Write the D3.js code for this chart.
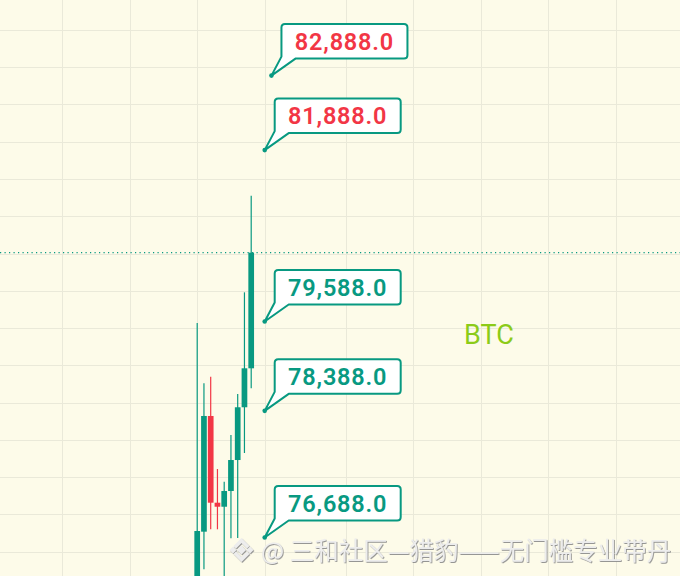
<!DOCTYPE html>
<html>
<head>
<meta charset="utf-8">
<script src="https://cdn.jsdelivr.net/npm/d3@7"></script>
<style>
  html, body { margin: 0; padding: 0; background: #fdfbe9; }
  svg { display: block; }
</style>
</head>
<body>
<svg id="chart"></svg>
<script>
// candles (bar index 0 = leftmost visible candle)
const barIndex = [0, 1, 2, 3, 4, 5, 6, 7, 8];
const opens  = [75850, 76766, 78319, 77155, 77101, 77312, 77728, 78436, 78959];
const highs  = [79567, 78758, 78846, 77607, 77437, 78064, 78614, 79979, 81276];
const lows   = [75700, 76261, 76798, 76798, 75980, 76677, 76681, 77822, 78691];
const closes = [76775, 78319, 77155, 77101, 77312, 77728, 78436, 78959, 80511];

// price callouts
const levelPrices = [82888, 81888, 79588, 78388, 76688];
const levelBars = [11, 10, 10, 10, 10];

// time grid (bar index of each vertical line)
const gridBars = [-20, -10, 0, 10, 22, 32, 42, 52, 62];

const symbol = 'BTC';
const watermark = '@ 三和社区—猎豹——无门槛专业带丹';

const width = 680;
const height = 576;
const up = '#089981';
const down = '#f23645';

const svg = d3.select('#chart').attr('width', width).attr('height', height);

svg.append('rect').attr('width', width).attr('height', height).attr('fill', '#fdfbe9');

const x = d3.scaleLinear().domain([0, 8]).range([197.2, 251.2]);
const y = d3.scaleLinear().domain([76000, 83500]).range([588.75, 30]);

// grid
const grid = svg.append('g').attr('stroke', '#eae9d9').attr('stroke-width', 1);
grid.selectAll('line.h')
  .data(d3.range(76000, 84001, 500))
  .join('line')
  .attr('class', 'h')
  .attr('x1', 0).attr('x2', width)
  .attr('y1', (d) => Math.round(y(d)) + 0.5)
  .attr('y2', (d) => Math.round(y(d)) + 0.5);
grid.selectAll('line.v')
  .data(gridBars)
  .join('line')
  .attr('class', 'v')
  .attr('y1', 0).attr('y2', height)
  .attr('x1', (d) => Math.round(x(d)) + 0.5)
  .attr('x2', (d) => Math.round(x(d)) + 0.5);

// last price line
const last = closes[closes.length - 1];
svg.append('line')
  .attr('x1', 0).attr('x2', width)
  .attr('y1', y(last)).attr('y2', y(last))
  .attr('stroke', up)
  .attr('stroke-width', 1.2)
  .attr('stroke-dasharray', '1.2,3.3');

// candles
const bodyW = 5.7;
const candles = svg.append('g')
  .selectAll('g')
  .data(barIndex)
  .join('g')
  .attr('fill', (i) => (closes[i] >= opens[i] ? up : down))
  .attr('stroke', (i) => (closes[i] >= opens[i] ? up : down));

candles.append('line')
  .attr('x1', (i) => x(i)).attr('x2', (i) => x(i))
  .attr('y1', (i) => y(highs[i])).attr('y2', (i) => y(lows[i]))
  .attr('stroke-width', 1.2);

candles.append('rect')
  .attr('stroke', 'none')
  .attr('x', (i) => x(i) - bodyW / 2)
  .attr('width', bodyW)
  .attr('y', (i) => y(Math.max(opens[i], closes[i])))
  .attr('height', (i) => Math.max(1.5, Math.abs(y(opens[i]) - y(closes[i]))));

// callouts
const boxW = 126;
const boxH = 34.5;
const r = 3.5;
const calloutPath = (px, py) => {
  const left = px + 10;
  const bottom = py - 17;
  const top = bottom - boxH;
  const right = left + boxW;
  return [
    `M${left + r},${top}`,
    `L${right - r},${top}`,
    `Q${right},${top} ${right},${top + r}`,
    `L${right},${bottom - r}`,
    `Q${right},${bottom} ${right - r},${bottom}`,
    `L${left + 14},${bottom}`,
    `L${px},${py}`,
    `L${left},${bottom - 2}`,
    `L${left},${top + r}`,
    `Q${left},${top} ${left + r},${top}`,
    'Z',
  ].join(' ');
};

const fmt = d3.format(',.1f');
const callouts = svg.append('g')
  .selectAll('g')
  .data(levelPrices.map((p, k) => ({ p, b: levelBars[k] })))
  .join('g');

callouts.append('path')
  .attr('d', (d) => calloutPath(x(d.b), y(d.p)))
  .attr('fill', '#ffffff')
  .attr('stroke', up)
  .attr('stroke-width', 2)
  .attr('stroke-linejoin', 'round');

callouts.append('circle')
  .attr('cx', (d) => x(d.b))
  .attr('cy', (d) => y(d.p))
  .attr('r', 2.3)
  .attr('fill', up);

callouts.append('text')
  .attr('x', (d) => x(d.b) + 10 + boxW / 2)
  .attr('y', (d) => y(d.p) - 17 - boxH / 2)
  .attr('dy', '0.36em')
  .attr('text-anchor', 'middle')
  .attr('font-family', 'Roboto, sans-serif')
  .attr('font-size', 23.5)
  .attr('font-weight', 600)
  .attr('letter-spacing', 0.8)
  .attr('fill', (d) => (d.p > last ? down : up))
  .text((d) => fmt(d.p));

// symbol label
svg.append('text')
  .attr('x', 464)
  .attr('y', 344)
  .attr('font-family', 'Roboto, sans-serif')
  .attr('font-size', 27)
  .attr('fill', '#8ccb18')
  .text(symbol);

// watermark
const defs = svg.append('defs');
const f = defs.append('filter').attr('id', 'wm').attr('x', '-10%').attr('y', '-30%').attr('width', '120%').attr('height', '160%');
f.append('feDropShadow')
  .attr('dx', 0.8).attr('dy', 0.9)
  .attr('stdDeviation', 0.7)
  .attr('flood-color', '#8a8a8a')
  .attr('flood-opacity', 1);

const wm = svg.append('g').attr('filter', 'url(#wm)').attr('fill', '#ededed');
const logo = wm.append('g').attr('transform', 'translate(241.5,550) scale(1.0)');
const logoShapes = [
  [[0, -4.5], [4.5, 0], [0, 4.5], [-4.5, 0]],
  [[-12, 0], [-8.5, -3.5], [-5, 0], [-8.5, 3.5]],
  [[12, 0], [8.5, -3.5], [5, 0], [8.5, 3.5]],
  [[0, -12], [8, -4], [5.5, -1.5], [0, -7], [-5.5, -1.5], [-8, -4]],
  [[0, 12], [8, 4], [5.5, 1.5], [0, 7], [-5.5, 1.5], [-8, 4]],
];
logo.selectAll('polygon')
  .data(logoShapes)
  .join('polygon')
  .attr('points', (pts) => pts.map((p) => p.join(',')).join(' '));

wm.append('text')
  .attr('x', 261)
  .attr('y', 560)
  .attr('font-family', '"Noto Sans CJK SC", "Noto Sans", sans-serif')
  .attr('font-size', 24.5)
  .text(watermark);
</script>
</body>
</html>
